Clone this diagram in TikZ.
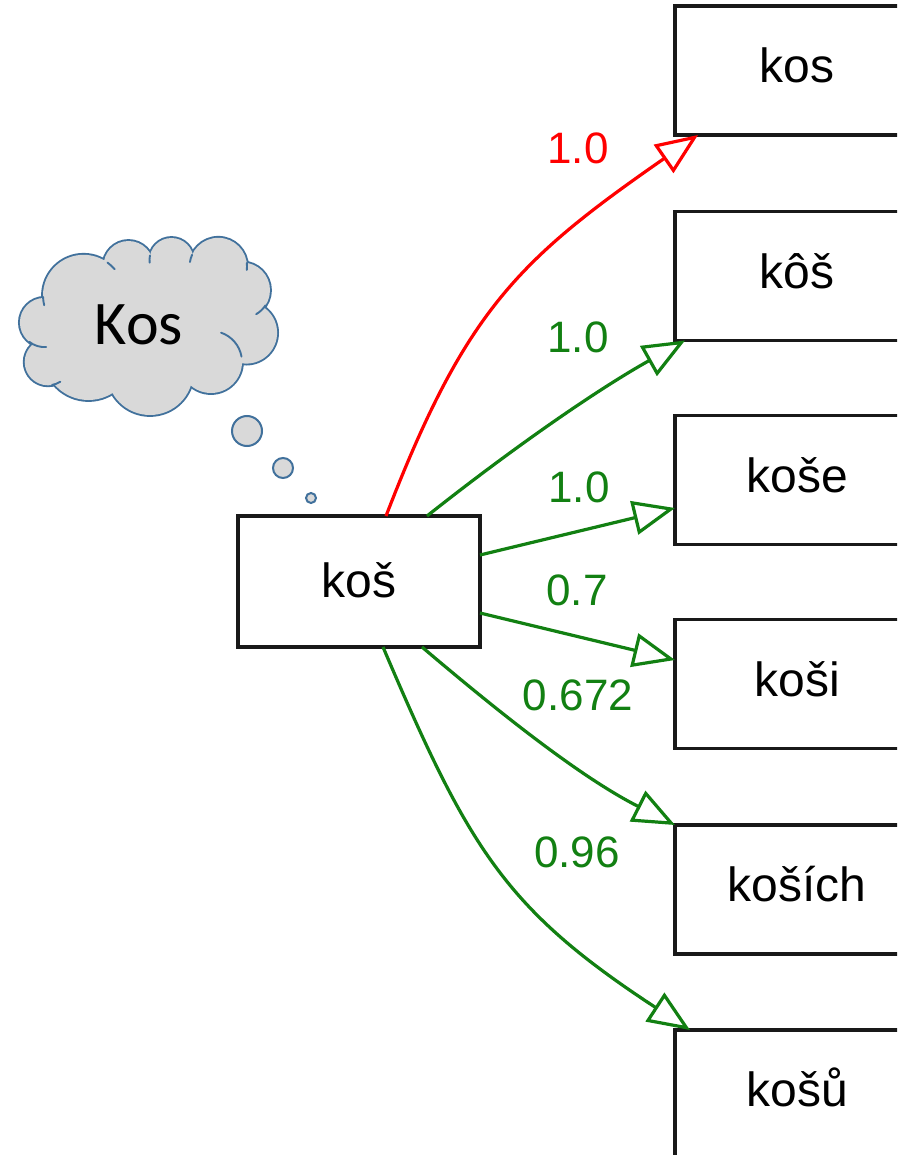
\documentclass[tikz,border=0pt]{standalone}
\usepackage{fontspec}
\setmainfont{Liberation Sans}
\newfontfamily\calibrifont{Carlito}
\usetikzlibrary{arrows.meta}
\definecolor{lgreen}{RGB}{18,128,18}
\definecolor{lred}{RGB}{255,0,0}
\definecolor{cloudfill}{RGB}{217,217,217}
\definecolor{cloudline}{RGB}{65,113,156}
\tikzset{
  wordbox/.style={draw=black!90, line width=3.8pt, fill=white, rectangle, outer sep=0pt,
    inner sep=0pt, font=\fontsize{48}{56}\selectfont, text height=24pt, text depth=0pt},
  srcbox/.style={wordbox, minimum width=242pt, minimum height=131pt, text height=31pt},
  tgtbox/.style={wordbox, minimum width=244pt, minimum height=129pt},
  conn/.style={line width=3.2pt, -{Triangle[open, length=42pt, width=34pt]}},
  gconn/.style={conn, draw=lgreen},
  rconn/.style={conn, draw=lred},
  wlabel/.style={inner sep=0pt, font=\fontsize{44}{52}\selectfont},
  bubble/.style={circle, draw=cloudline, fill=cloudfill, line width=2pt, inner sep=0pt},
  cloudedge/.style={draw=cloudline, line width=3.8pt},
  cloudtick/.style={draw=cloudline, line width=1.9pt, line cap=round}
}
\begin{document}
\begin{tikzpicture}[x=1pt,y=-1pt]
\useasboundingbox (0,0) rectangle (897,1155);
\clip (0,0) rectangle (897,1155);
\fill[white] (0,0) rectangle (897,1155);

% thought cloud: union of puffs
\foreach \cx/\cy/\r in {44.5/322.5/24.6, 83.6/295.4/40.6, 128.5/266/25, 171.5/260/22,
    218.3/266.5/28.7, 242.3/290.2/27.7, 246.3/332.8/30.8, 211/362/31, 150/372/43,
    88.5/355/45, 48/362/23.3}
  \draw[cloudedge] (\cx,\cy) circle[radius=\r];
\foreach \cx/\cy/\r in {44.5/322.5/24.6, 83.6/295.4/40.6, 128.5/266/25, 171.5/260/22,
    218.3/266.5/28.7, 242.3/290.2/27.7, 246.3/332.8/30.8, 211/362/31, 150/372/43,
    88.5/355/45, 48/362/23.3}
  \fill[cloudfill] (\cx,\cy) circle[radius=\r];
\fill[cloudfill] (43,299) -- (107,262) -- (151,257) -- (192,255) -- (247,264) -- (261,309)
  -- (241,362) -- (190,383) -- (113,393) -- (54,384) -- (35,344) -- cycle;
% inner ticks of the cloud
\foreach \cx/\cy/\r/\a/\b in {83.6/295.4/40.6/306/320, 171.5/260/22/173/192,
    218.3/266.5/28.7/189/204, 218.3/266.5/28.7/353/367, 242.3/290.2/27.7/33/60,
    211/362/31/289/350, 48/362/23.3/58/80, 44.5/322.5/24.6/86/128,
    83.6/295.4/40.6/166/178}
  \draw[cloudtick] (\cx,\cy) ++(\a:\r) arc[start angle=\a, end angle=\b, radius=\r];
\node[font=\calibrifont\fontsize{62}{70}\selectfont, inner sep=0pt] (thought) at (139,325) {Kos};

\node[bubble, minimum size=30pt] (b1) at (247,431) {};
\node[bubble, minimum size=20pt] (b2) at (283,468) {};
\node[bubble, minimum size=10pt] (b3) at (311,498) {};

% source
\node[srcbox] (s) at (359,581.5) {koš};

% targets
\node[tgtbox] (t1) at (797,70.5) {kos};
\node[tgtbox] (t2) at (797,276) {kôš};
\node[tgtbox] (t3) at (797,480) {koše};
\node[tgtbox] (t4) at (797,684) {koši};
\node[tgtbox] (t5) at (797,889.5) {koších};
\node[tgtbox] (t6) at (797,1094.5) {košů};

% connectors
\draw[rconn] ([xshift=27pt]s.north) .. controls +(79,-205) and +(-180,125) .. ([xshift=23pt]t1.south west);
\draw[gconn] ([xshift=68pt]s.north) .. controls +(82,-65) and +(-91,51) .. ([xshift=10pt]t2.south west);
\draw[gconn] ([yshift=26.5pt]s.east) -- ([yshift=-28pt]t3.west);
\draw[gconn] ([yshift=-31.5pt]s.east) -- ([yshift=24pt]t4.west);
\draw[gconn] ([xshift=63pt]s.south) .. controls +(80,68) and +(-93,-47) .. (t5.north west);
\draw[gconn] ([xshift=24pt]s.south) .. controls +(86,202) and +(-185,-121) .. ([xshift=15pt]t6.north west);

% labels
\node[wlabel, text=lred] (l1) at (578,148) {1.0};
\node[wlabel, text=lgreen] (l2) at (578,337) {1.0};
\node[wlabel, text=lgreen] (l3) at (579,487) {1.0};
\node[wlabel, text=lgreen] (l4) at (577,590) {0.7};
\node[wlabel, text=lgreen] (l5) at (578,695) {0.672};
\node[wlabel, text=lgreen] (l6) at (577,852) {0.96};
\end{tikzpicture}
\end{document}
